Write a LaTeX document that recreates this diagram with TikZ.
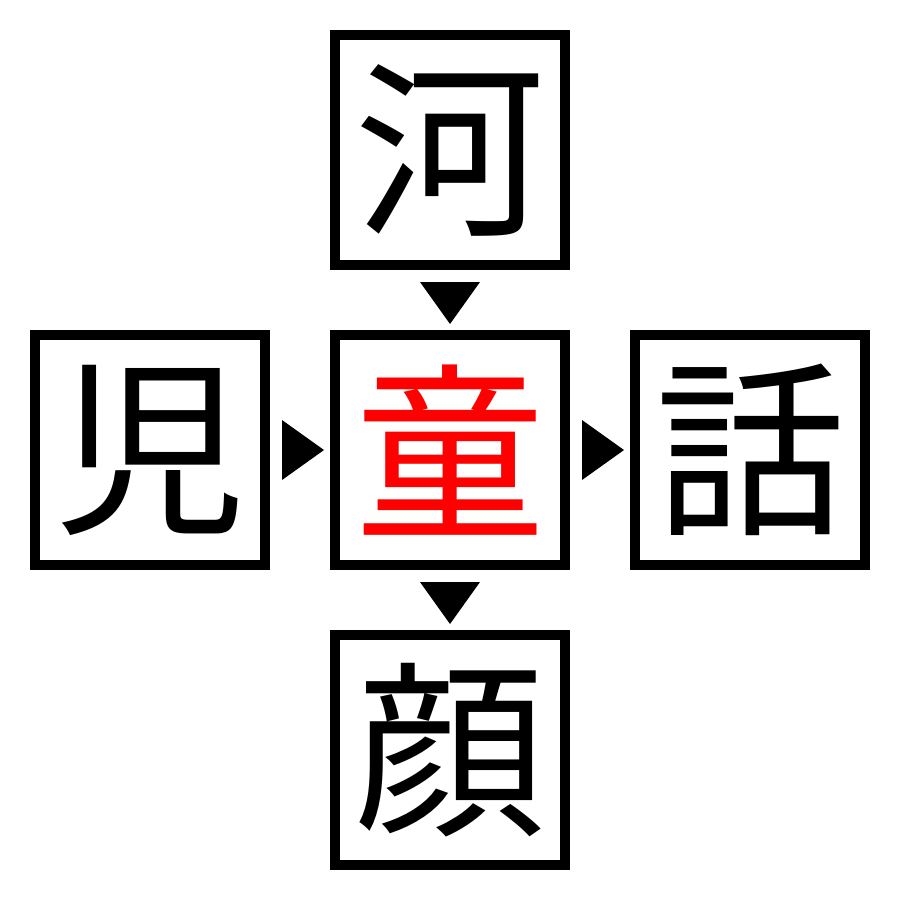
\documentclass[tikz,border=0pt]{standalone}
\usepackage{fontspec}
\newfontfamily\cjk{Noto Sans CJK JP}
\begin{document}
\begin{tikzpicture}[x=1pt,y=-1pt,
  kbox/.style={draw=black,line width=10pt,minimum size=230pt,inner sep=0pt,font=\cjk\fontsize{190}{190}\selectfont},
  tri/.style={fill=black}]
\useasboundingbox (0,0) rectangle (900,900);
\node[kbox] (t) at (450,150) {河};
\node[kbox] (l) at (150,450) {児};
\node[kbox,text=red] (c) at (450,450) {童};
\node[kbox] (r) at (750,450) {話};
\node[kbox] (b) at (450,750) {顔};
\fill[tri] (420,282) -- (480,282) -- (450,324) -- cycle;
\fill[tri] (420,582) -- (480,582) -- (450,624) -- cycle;
\fill[tri] (282,420) -- (282,480) -- (324,450) -- cycle;
\fill[tri] (582,420) -- (582,480) -- (624,450) -- cycle;
\end{tikzpicture}
\end{document}
